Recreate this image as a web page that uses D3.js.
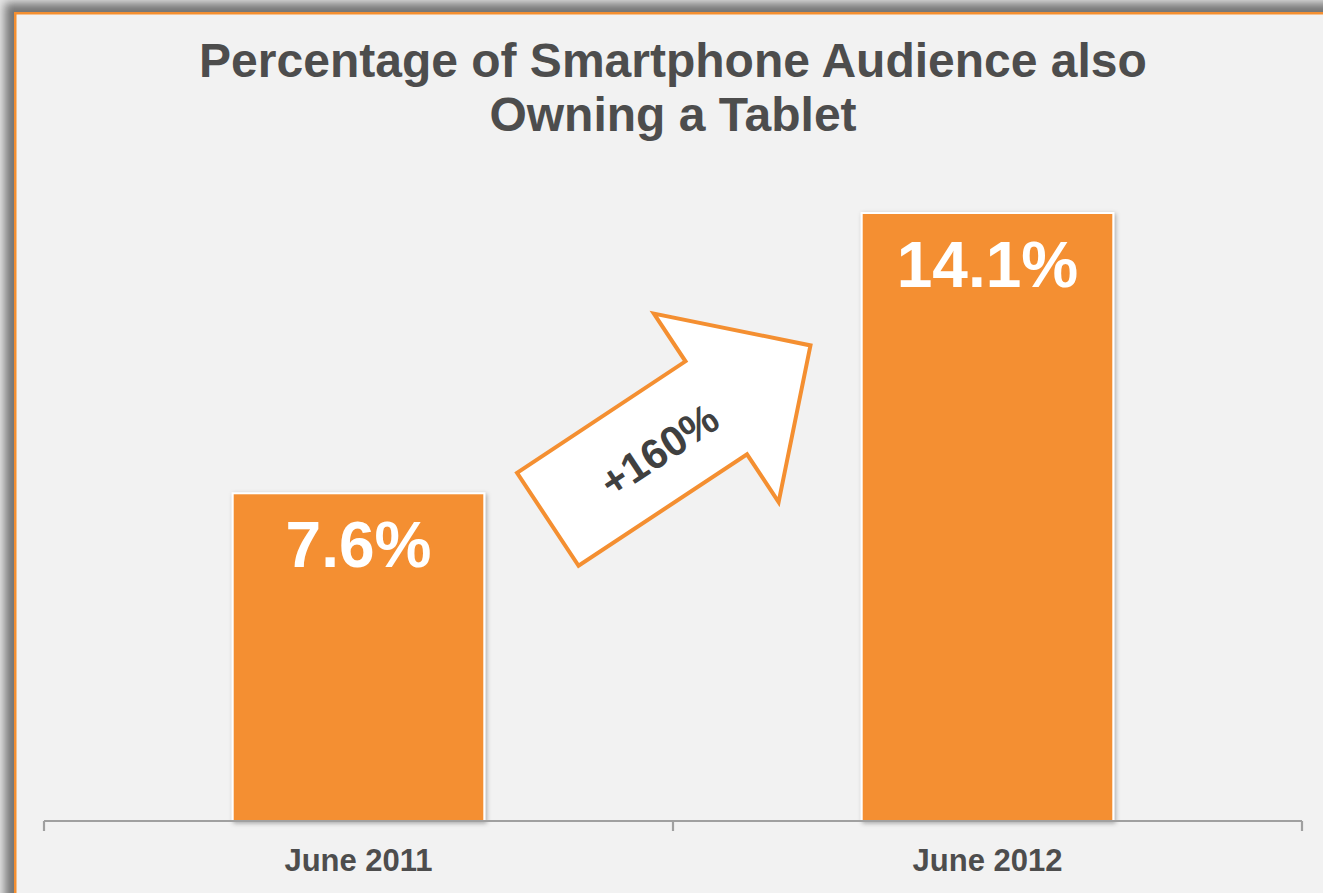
<!DOCTYPE html>
<html>
<head>
<meta charset="utf-8">
<script src="https://cdn.jsdelivr.net/npm/d3@7"></script>
<style>
  html, body { margin: 0; padding: 0; background: #ececec; }
  svg { display: block; }
</style>
</head>
<body>
<svg id="chart" width="1323" height="893"></svg>
<script>
// Chart data
const titleLines = ["Percentage of Smartphone Audience also", "Owning a Tablet"];
const categories = ["June 2011", "June 2012"];
const values = [7.6, 14.1];
const growthLabel = "+160%";

const W = 1323, H = 893;
const font = "Liberation Sans, Arial, sans-serif";
const orange = "#f48f31";
const textGray = "#4d4d4d";

const svg = d3.select("#chart");
const defs = svg.append("defs");

// soft shadow behind the framed panel
defs.append("filter").attr("id", "panelShadow")
  .attr("x", "-10%").attr("y", "-10%").attr("width", "130%").attr("height", "130%")
  .append("feGaussianBlur").attr("stdDeviation", 5);

// subtle shadow around each bar
const bs = defs.append("filter").attr("id", "barShadow")
  .attr("x", "-10%").attr("y", "-10%").attr("width", "120%").attr("height", "120%");
bs.append("feDropShadow").attr("dx", 1.5).attr("dy", 1.5)
  .attr("stdDeviation", 2).attr("flood-color", "#000").attr("flood-opacity", 0.3);

// page backdrop, panel shadow and panel
svg.append("rect").attr("width", W).attr("height", H).attr("fill", "#e6e6e6");
svg.append("rect").attr("x", 5).attr("y", 3).attr("width", W + 40).attr("height", H + 40)
  .attr("fill", "#747474").attr("filter", "url(#panelShadow)");
svg.append("rect").attr("x", 15.25).attr("y", 13.25).attr("width", W + 40).attr("height", H + 40)
  .attr("fill", "#f2f2f2").attr("stroke", orange).attr("stroke-width", 2.5);

// Title
svg.append("text")
  .attr("x", 673).attr("y", 77)
  .attr("text-anchor", "middle")
  .attr("font-family", font).attr("font-weight", "bold")
  .attr("font-size", 48).attr("fill", textGray)
  .selectAll("tspan").data(titleLines).join("tspan")
  .attr("x", 673).attr("dy", (d, i) => i === 0 ? 0 : 54)
  .text(d => d);

// Scales
const plot = { left: 44, right: 1302, bottom: 821 };
const x = d3.scaleBand().domain(categories)
  .range([plot.left, plot.right]).paddingInner(0.6).paddingOuter(0.3);
const y = d3.scaleLinear().domain([0, 16]).range([plot.bottom, plot.bottom - 16 * 43.12]);

// Bars
const bars = svg.append("g");
bars.selectAll("rect").data(values).join("rect")
  .attr("x", (d, i) => x(categories[i]))
  .attr("y", d => y(d))
  .attr("width", x.bandwidth())
  .attr("height", d => y(0) - y(d))
  .attr("fill", orange)
  .attr("stroke", "#ffffff").attr("stroke-width", 2)
  .attr("filter", "url(#barShadow)");

// Value labels inside the bars
bars.selectAll("text").data(values).join("text")
  .attr("x", (d, i) => x(categories[i]) + x.bandwidth() / 2)
  .attr("y", d => y(d) + 74)
  .attr("text-anchor", "middle")
  .attr("font-family", font).attr("font-weight", "bold")
  .attr("font-size", 64).attr("fill", "#ffffff")
  .text(d => d.toFixed(1) + "%");

// Axis: baseline with ticks on category boundaries
const axisG = svg.append("g").attr("transform", `translate(0,${plot.bottom})`);
const axis = d3.axisBottom(x).tickSize(0).tickPadding(0);
axisG.call(axis);
axisG.select(".domain").attr("stroke", "#a0a0a0").attr("stroke-width", 2.2)
  .attr("d", `M${plot.left},0H${plot.right}`);
axisG.selectAll(".tick text")
  .attr("y", 50)
  .attr("dy", 0)
  .attr("font-family", font).attr("font-weight", "bold")
  .attr("font-size", 31).attr("fill", textGray);
const boundaries = categories.map(c => x(c) - x.step() * x.paddingInner() / 2)
  .map((v, i) => i === 0 ? plot.left : v).concat([plot.right]);
axisG.selectAll("line.boundary").data(boundaries).join("line")
  .attr("class", "boundary")
  .attr("x1", d => d).attr("x2", d => d)
  .attr("y1", 0).attr("y2", 10)
  .attr("stroke", "#a0a0a0").attr("stroke-width", 2.2);

// Growth arrow between the two bars
const shaftHalf = 55.75, headHalf = 113, shaftLen = 202, totalLen = 315;
const arrowPts = [
  [0, -shaftHalf], [shaftLen, -shaftHalf], [shaftLen, -headHalf], [totalLen, 0],
  [shaftLen, headHalf], [shaftLen, shaftHalf], [0, shaftHalf]
];
const tailX = (x(categories[0]) + x.bandwidth()) + 63.5;
const tailY = y(values[0]) + 26;
const arrowG = svg.append("g")
  .attr("transform", `translate(${tailX},${tailY}) rotate(-33.5)`);
arrowG.append("path")
  .attr("d", d3.line()(arrowPts) + "Z")
  .attr("fill", "#ffffff").attr("stroke", orange)
  .attr("stroke-width", 4).attr("stroke-linejoin", "miter");
arrowG.append("text")
  .attr("x", 131).attr("y", 4)
  .attr("text-anchor", "middle").attr("dominant-baseline", "central")
  .attr("font-family", font).attr("font-weight", "bold")
  .attr("font-size", 42).attr("fill", "#404040")
  .text(growthLabel);
</script>
</body>
</html>
